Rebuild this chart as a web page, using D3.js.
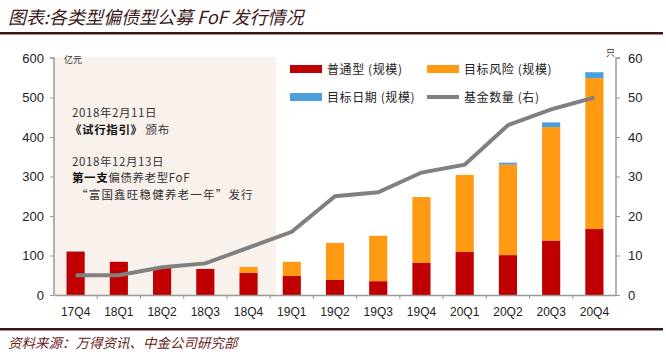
<!DOCTYPE html>
<html><head><meta charset="utf-8">
<script src="https://cdn.jsdelivr.net/npm/d3@7"></script>
<style>body{margin:0;background:#fff;} svg{display:block;}</style>
</head><body>
<script>
const categories = ["17Q4","18Q1","18Q2","18Q3","18Q4","19Q1","19Q2","19Q3","19Q4","20Q1","20Q2","20Q3","20Q4"];
const normal    = [110, 84, 70, 66, 56, 48, 38, 35, 81, 109, 101, 138, 167];
const targetRisk= [0, 0, 0, 0, 15, 36, 94, 115, 167, 195, 229, 287, 382];
const targetDate= [0, 0, 0, 0, 0, 0, 0, 0, 0, 0, 5, 12, 15];
const fundCount = [5, 5, 7, 8, 12, 16, 25, 26, 31, 33, 43, 47, 50];
const leftTicks = [0,100,200,300,400,500,600];
const rightTicks = [0,10,20,30,40,50,60];

const W=666,H=360;
const svg=d3.select("body").append("svg").attr("width",W).attr("height",H);
const font="'Liberation Sans', Arial, sans-serif";
const cjk="'Noto Sans CJK SC', sans-serif";

// title
svg.append("text").attr("x",8).attr("y",24).attr("font-family",cjk).attr("font-size",18)
  .attr("font-style","italic").attr("fill","#3b1a1a").text("图表:各类型偏债型公募 FoF 发行情况");
svg.append("rect").attr("x",0).attr("y",32).attr("width",663).attr("height",2.5).attr("fill","#3a1818");

const x0=54,x1=616,yb=295,yt=58;
const x=d3.scaleBand().domain(categories).range([x0,x1]).paddingInner(0.58).paddingOuter(0.29);
const xc=d3.scalePoint().domain(categories).range([x0,x1]).padding(0.5);
const yL=d3.scaleLinear().domain([0,600]).range([yb,yt]);
const yR=d3.scaleLinear().domain([0,60]).range([yb,yt]);

// shaded area
svg.append("rect").attr("x",x0).attr("y",57).attr("width",222).attr("height",yb-57).attr("fill","#f8f1ec");

// stacked bars
const stack=d3.stack().keys(["n","r","d"])(categories.map((c,i)=>({c,n:normal[i],r:targetRisk[i],d:targetDate[i]})));
const colors={n:"#c00000",r:"#ff9a12",d:"#4a9fdc"};
stack.forEach(layer=>{
  svg.append("g").selectAll("rect").data(layer).join("rect")
   .attr("x",d=>x(d.data.c)).attr("width",x.bandwidth())
   .attr("y",d=>yL(d[1])).attr("height",d=>Math.max(0,yL(d[0])-yL(d[1])))
   .attr("fill",colors[layer.key]);
});

// line
svg.append("path").datum(fundCount).attr("fill","none").attr("stroke","#808080").attr("stroke-width",4)
  .attr("d",d3.line().x((d,i)=>xc(categories[i])).y(d=>yR(d)));

// axes
const gL=svg.append("g").attr("transform",`translate(${x0},0)`)
  .call(d3.axisLeft(yL).tickValues(leftTicks).tickSize(4).tickPadding(6));
const gR=svg.append("g").attr("transform",`translate(${x1},0)`)
  .call(d3.axisRight(yR).tickValues(rightTicks).tickSize(4).tickPadding(8));
const gX=svg.append("g").attr("transform",`translate(0,${yb})`)
  .call(d3.axisBottom(x).tickSize(0).tickPadding(12));
[gL,gR,gX].forEach(g=>{
  g.selectAll("path.domain").attr("stroke","#999").attr("stroke-width",1.5);
  g.selectAll("line").attr("stroke","#999");
  g.selectAll("text").attr("font-family",font).attr("font-size",13).attr("fill","#222");
});
gX.selectAll("text").attr("font-size",12);
gL.select("path.domain").attr("d",`M-4,${yt}H0V${yb}`);
gR.select("path.domain").attr("d",`M4,${yt}H0V${yb}`);
// x separators
svg.append("g").selectAll("line").data(d3.range(1,categories.length)).join("line")
  .attr("x1",i=>x0+(x1-x0)/categories.length*i).attr("x2",i=>x0+(x1-x0)/categories.length*i)
  .attr("y1",yb).attr("y2",yb+4).attr("stroke","#999");

// units
svg.append("text").attr("x",64).attr("y",63).attr("font-family",cjk).attr("font-size",9).attr("fill","#333").text("亿元");
svg.append("text").attr("x",606).attr("y",56).attr("font-family",cjk).attr("font-size",9).attr("fill","#333").text("只");

// legend
const legend=[
  {t:"普通型 (规模)",c:colors.n,x:290,y:69,type:"rect"},
  {t:"目标风险 (规模)",c:colors.r,x:427,y:69,type:"rect"},
  {t:"目标日期 (规模)",c:colors.d,x:290,y:97,type:"rect"},
  {t:"基金数量 (右)",c:"#808080",x:427,y:97,type:"line"}];
legend.forEach(l=>{
  if(l.type==="rect") svg.append("rect").attr("x",l.x).attr("y",l.y-4).attr("width",32).attr("height",8).attr("fill",l.c);
  else svg.append("line").attr("x1",l.x).attr("x2",l.x+32).attr("y1",l.y).attr("y2",l.y).attr("stroke",l.c).attr("stroke-width",4);
  svg.append("text").attr("x",l.x+37).attr("y",l.y+4.5).attr("font-family",cjk).attr("font-size",12)
    .attr("letter-spacing",0.6).attr("fill","#222").text(l.t);
});

// annotation
const ann=svg.append("g").attr("font-family",cjk).attr("font-size",11.5).attr("fill","#333").attr("letter-spacing",0.6);
ann.append("text").attr("x",72).attr("y",117).text("2018年2月11日");
const t2=ann.append("text").attr("x",70).attr("y",134);
t2.append("tspan").attr("font-weight","bold").attr("fill","#111").text("《试行指引》");
t2.append("tspan").attr("dx",3).text("颁布");
ann.append("text").attr("x",72).attr("y",166).text("2018年12月13日");
const t4=ann.append("text").attr("x",72).attr("y",182);
t4.append("tspan").attr("font-weight","bold").attr("fill","#111").text("第一支");
t4.append("tspan").text("偏债养老型FoF");
ann.append("text").attr("x",76).attr("y",199).attr("letter-spacing",1.2).text("“富国鑫旺稳健养老一年”发行");

// footer
svg.append("rect").attr("x",0).attr("y",328).attr("width",663).attr("height",2.5).attr("fill","#3a1818");
svg.append("text").attr("x",8).attr("y",348).attr("font-family",cjk).attr("font-size",13.5)
  .attr("font-style","italic").attr("fill","#6b2020").text("资料来源：万得资讯、中金公司研究部");
</script>
</body></html>
